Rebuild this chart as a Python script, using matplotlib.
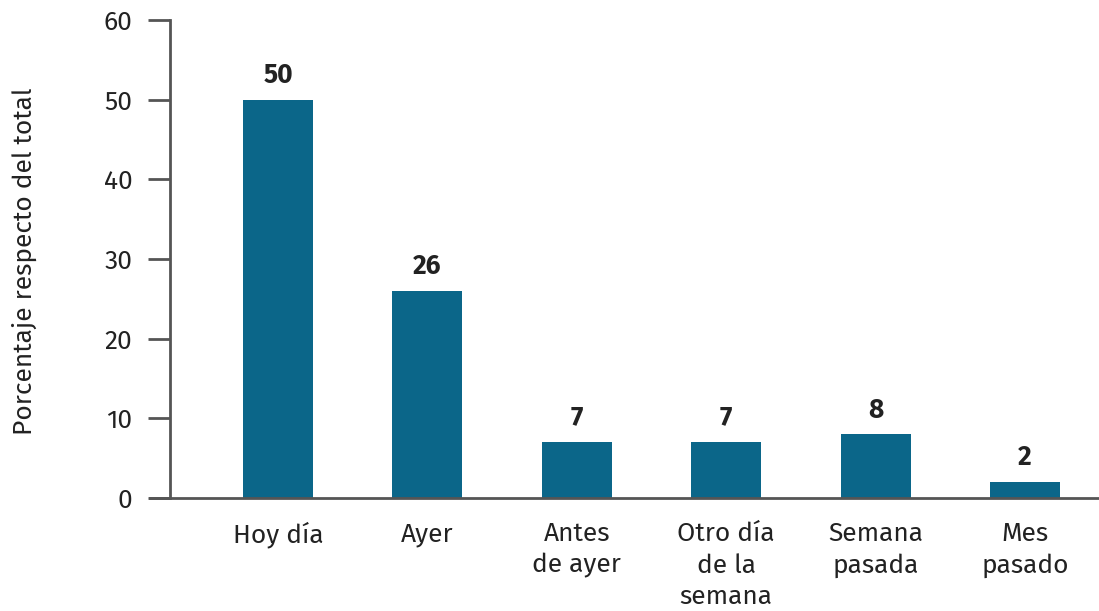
import matplotlib
matplotlib.use("Agg")
import matplotlib.pyplot as plt

categories = ["Hoy día", "Ayer", "Antes\nde ayer", "Otro día\nde la\nsemana", "Semana\npasada", "Mes\npasado"]
values = [50, 26, 7, 7, 8, 2]
yticks = [0, 10, 20, 30, 40, 50, 60]

plt.rcParams['font.family'] = ['Fira Sans', 'Open Sans', 'DejaVu Sans']
text_color = "#222222"
bar_color = "#0B6689"
axis_color = "#555555"

fig = plt.figure(figsize=(10.99, 6.11), dpi=100)
W, H = 1099, 611
left_px, right_px, top_px, bottom_px = 150, 1099, 20, 498
ax = fig.add_axes([left_px / W, 1 - bottom_px / H, (right_px - left_px) / W, (bottom_px - top_px) / H])

x = list(range(len(categories)))
step = 149.4
x0 = 278
xmin = (left_px - x0) / step
xmax = (right_px - x0) / step
ax.bar(x, values, width=70 / step, color=bar_color, zorder=2)
ax.set_xlim(xmin, xmax)
ax.set_ylim(0, 60)

for xi, v in zip(x, values):
    ax.annotate(str(v), (xi, v), xytext=(0, 8), textcoords="offset points",
                ha="center", va="bottom", fontsize=19, fontweight="bold", color=text_color)

for s in ["top", "right"]:
    ax.spines[s].set_visible(False)
ax.spines["left"].set_position(("axes", 20 / (right_px - left_px)))
for s in ["left", "bottom"]:
    ax.spines[s].set_color(axis_color)
    ax.spines[s].set_linewidth(2)
ax.spines["bottom"].set_zorder(3)

ax.set_yticks(yticks)
ax.set_yticklabels([str(t) for t in yticks])
ax.tick_params(axis="y", length=16, width=2, color=axis_color, pad=11,
               labelsize=19, labelcolor=text_color)
ax.set_xticks(x)
ax.set_xticklabels(categories, linespacing=1.32)
ax.tick_params(axis="x", length=0, pad=17, labelsize=19, labelcolor=text_color)
for lab in ax.get_xticklabels():
    lab.set_verticalalignment("top")

fig.text(24 / W, 1 - 261 / H, "Porcentaje respecto del total", rotation=90,
         ha="center", va="center", fontsize=19, color=text_color)

fig.savefig("out.png", dpi=100)
